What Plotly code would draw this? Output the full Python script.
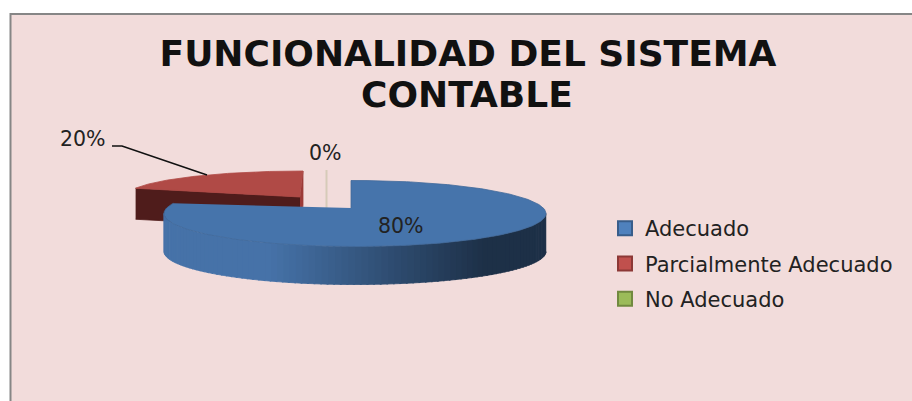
import numpy as np
import plotly.graph_objects as go

TITLE_LINES = ["FUNCIONALIDAD DEL SISTEMA", "CONTABLE"]
CATEGORIES = ["Adecuado", "Parcialmente Adecuado", "No Adecuado"]
VALUES = [80, 20, 0]
LEGEND_COLORS = ["#4f81bd", "#c0504d", "#9bbb59"]
LEGEND_EDGES = ["#385d8a", "#8c3836", "#71893f"]

BG = "#f2dcdb"
TOP_BLUE = "#4674ab"
TOP_RED = "#b04a46"
FACE_RED = "#4f1c1b"
SIDE_RED = "#9c3a37"


def angles(values):
    # clockwise from 12 o'clock, in degrees
    edges = np.cumsum([0] + list(values)) * 360 / sum(values)
    return list(zip(edges[:-1], edges[1:]))


def arc(cx, cy, rx, ry, a0, a1, n=120):
    t = np.radians(np.linspace(a0, a1, n))
    return cx + rx * np.sin(t), cy - ry * np.cos(t)


def poly(fig, xs, ys, color, line=None):
    fig.add_trace(go.Scatter(
        x=list(xs), y=list(ys), mode="lines", fill="toself", fillcolor=color,
        line=dict(color=line or color, width=0.8), showlegend=False, hoverinfo="skip",
    ))


def side_color(x):
    # side of the pie goes dark towards the right
    f = np.clip((x - 270) / 215, 0, 1)
    a, b = np.array([70, 114, 168]), np.array([29, 48, 71])
    r, g, bl = (a + (b - a) * f).astype(int)
    return f"rgb({r},{g},{bl})"


fig = go.Figure()
blue, red, zero = angles(VALUES)

# exploded red slice, drawn first because the blue one covers it
rx, ry, cx, cy, depth = 176, 25, 303, 196, 31
ax, ay = 300, 197
lx, ly = arc(cx, cy, rx, ry, red[0], red[1])
poly(fig, [lx[0], ax, ax, lx[0]], [ly[0], ay, ay + depth, ly[0] + depth], FACE_RED)
poly(fig, [ax, lx[-1], lx[-1], ax], [ay, ly[-1], ly[-1] + 34, ay + 34], SIDE_RED)
poly(fig, [ax, *lx], [ay, *ly], TOP_RED)

# empty slice only shows as a thin line
fig.add_trace(go.Scatter(x=[326.5, 326.5], y=[170, 209], mode="lines",
                         line=dict(color="#d6cbb8", width=2),
                         showlegend=False, hoverinfo="skip"))

# blue slice: side strips, then top
rx, ry, cx, cy, depth = 191, 33, 355, 213.5, 38
ax, ay = 351, 208
for a in np.arange(90, 270, 2):
    sx, sy = arc(cx, cy, rx, ry, a, a + 2.5, 5)
    poly(fig, [*sx, *sx[::-1]], [*sy, *(sy[::-1] + depth)], side_color(sx.mean()))
poly(fig, [ax, ax + 3, ax + 3, ax], [ay, ay, ay - 10, ay - 10], "#25405f")
bx, by = arc(cx, cy, rx, ry, blue[0], blue[1], 240)
bx[:3] = ax
poly(fig, [ax, *bx], [ay, *by], TOP_BLUE, "#41699b")

fig.add_trace(go.Scatter(x=[112, 122, 207], y=[146, 146, 175], mode="lines",
                         line=dict(color="#111111", width=1.6),
                         showlegend=False, hoverinfo="skip"))

# legend swatches only
for i, (name, col, edge) in enumerate(zip(CATEGORIES, LEGEND_COLORS, LEGEND_EDGES)):
    fig.add_trace(go.Scatter(
        x=[None], y=[None], mode="markers", name=name, legendgroup=name,
        marker=dict(symbol="square", size=14, color=col, line=dict(color=edge, width=2)),
    ))

labels = [f"{v}%" for v in VALUES]
label_xy = [(401, 226), (83, 139), (325, 153)]
for text, (x, y) in zip(labels, label_xy):
    fig.add_annotation(x=x, y=y, text=text, showarrow=False,
                       font=dict(family="DejaVu Sans", size=20.5, color="#222222"))

# second title line as an annotation, the line gap is tighter than plotly's
fig.add_annotation(x=467, y=94, text=TITLE_LINES[1], showarrow=False,
                   font=dict(family="DejaVu Sans", size=36, color="#111111", weight="bold"))

fig.update_layout(
    width=912, height=401,
    margin=dict(l=0, r=0, t=0, b=0),
    paper_bgcolor="white",
    plot_bgcolor="white",
    title=dict(text=TITLE_LINES[0], x=468 / 912, xanchor="center", y=1 - 53 / 401, yanchor="middle",
               font=dict(family="DejaVu Sans", size=36, color="#111111", weight="bold")),
    xaxis=dict(range=[0, 912], visible=False, fixedrange=True),
    yaxis=dict(range=[401, 0], visible=False, fixedrange=True),
    shapes=[dict(type="rect", x0=10.5, y0=14, x1=930, y1=420, layer="below",
                 fillcolor=BG, line=dict(color="#868686", width=2))],
    legend=dict(x=605 / 912, y=1 - 208 / 401, xanchor="left", yanchor="top",
                tracegroupgap=5, itemwidth=30, bgcolor="rgba(0,0,0,0)",
                font=dict(family="DejaVu Sans", size=21, color="#222222")),
)

fig.write_html("out.html", config=dict(displayModeBar=False),
               post_script="document.body.style.margin = '0';")
